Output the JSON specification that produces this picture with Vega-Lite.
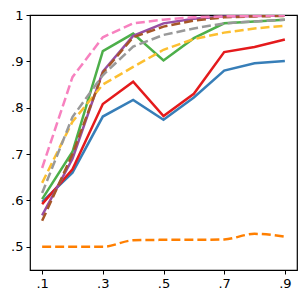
{
  "$schema": "https://vega.github.io/schema/vega-lite/v6.json",
  "autosize": {"type": "none"},
  "padding": {"left": 30, "top": 15, "right": 3, "bottom": 30},
  "width": 267,
  "height": 255,
  "config": {
    "view": {"stroke": "black", "strokeWidth": 1.2},
    "font": "DejaVu Sans",
    "axis": {"grid": false, "domain": false, "tickColor": "black", "tickSize": 4, "tickWidth": 1, "labelColor": "black", "labelFontSize": 13, "labelFont": "DejaVu Sans", "labelPadding": 3}
  },
  "datasets": {
    "d": [
      {"s": "blue", "x": 0.1, "y": 0.597}, {"s": "blue", "x": 0.2, "y": 0.660}, {"s": "blue", "x": 0.3, "y": 0.781}, {"s": "blue", "x": 0.4, "y": 0.817}, {"s": "blue", "x": 0.5, "y": 0.774}, {"s": "blue", "x": 0.6, "y": 0.822}, {"s": "blue", "x": 0.7, "y": 0.880}, {"s": "blue", "x": 0.8, "y": 0.896}, {"s": "blue", "x": 0.9, "y": 0.901},
      {"s": "red", "x": 0.1, "y": 0.592}, {"s": "red", "x": 0.2, "y": 0.667}, {"s": "red", "x": 0.3, "y": 0.808}, {"s": "red", "x": 0.4, "y": 0.856}, {"s": "red", "x": 0.5, "y": 0.782}, {"s": "red", "x": 0.6, "y": 0.830}, {"s": "red", "x": 0.7, "y": 0.920}, {"s": "red", "x": 0.8, "y": 0.931}, {"s": "red", "x": 0.9, "y": 0.947},
      {"s": "green", "x": 0.1, "y": 0.603}, {"s": "green", "x": 0.2, "y": 0.705}, {"s": "green", "x": 0.3, "y": 0.922}, {"s": "green", "x": 0.4, "y": 0.960}, {"s": "green", "x": 0.5, "y": 0.902}, {"s": "green", "x": 0.6, "y": 0.950}, {"s": "green", "x": 0.7, "y": 0.982}, {"s": "green", "x": 0.8, "y": 0.986}, {"s": "green", "x": 0.9, "y": 0.990},
      {"s": "purple", "x": 0.1, "y": 0.568}, {"s": "purple", "x": 0.2, "y": 0.690}, {"s": "purple", "x": 0.3, "y": 0.878}, {"s": "purple", "x": 0.4, "y": 0.955}, {"s": "purple", "x": 0.5, "y": 0.982}, {"s": "purple", "x": 0.6, "y": 0.992}, {"s": "purple", "x": 0.7, "y": 0.997}, {"s": "purple", "x": 0.8, "y": 0.998}, {"s": "purple", "x": 0.9, "y": 0.999}
    ],
    "e": [
      {"s": "orange", "x": 0.1, "y": 0.500}, {"s": "orange", "x": 0.2, "y": 0.500}, {"s": "orange", "x": 0.3, "y": 0.500}, {"s": "orange", "x": 0.4, "y": 0.514}, {"s": "orange", "x": 0.5, "y": 0.515}, {"s": "orange", "x": 0.6, "y": 0.515}, {"s": "orange", "x": 0.7, "y": 0.516}, {"s": "orange", "x": 0.8, "y": 0.528}, {"s": "orange", "x": 0.9, "y": 0.522},
      {"s": "yellow", "x": 0.1, "y": 0.638}, {"s": "yellow", "x": 0.2, "y": 0.770}, {"s": "yellow", "x": 0.3, "y": 0.850}, {"s": "yellow", "x": 0.4, "y": 0.888}, {"s": "yellow", "x": 0.5, "y": 0.925}, {"s": "yellow", "x": 0.6, "y": 0.948}, {"s": "yellow", "x": 0.7, "y": 0.962}, {"s": "yellow", "x": 0.8, "y": 0.971}, {"s": "yellow", "x": 0.9, "y": 0.977},
      {"s": "brown", "x": 0.1, "y": 0.556}, {"s": "brown", "x": 0.2, "y": 0.700}, {"s": "brown", "x": 0.3, "y": 0.875}, {"s": "brown", "x": 0.4, "y": 0.952}, {"s": "brown", "x": 0.5, "y": 0.975}, {"s": "brown", "x": 0.6, "y": 0.988}, {"s": "brown", "x": 0.7, "y": 0.995}, {"s": "brown", "x": 0.8, "y": 0.997}, {"s": "brown", "x": 0.9, "y": 0.998},
      {"s": "pink", "x": 0.1, "y": 0.670}, {"s": "pink", "x": 0.2, "y": 0.866}, {"s": "pink", "x": 0.3, "y": 0.952}, {"s": "pink", "x": 0.4, "y": 0.982}, {"s": "pink", "x": 0.5, "y": 0.990}, {"s": "pink", "x": 0.6, "y": 0.995}, {"s": "pink", "x": 0.7, "y": 0.997}, {"s": "pink", "x": 0.8, "y": 0.998}, {"s": "pink", "x": 0.9, "y": 0.999},
      {"s": "grey", "x": 0.1, "y": 0.616}, {"s": "grey", "x": 0.2, "y": 0.780}, {"s": "grey", "x": 0.3, "y": 0.870}, {"s": "grey", "x": 0.4, "y": 0.932}, {"s": "grey", "x": 0.5, "y": 0.957}, {"s": "grey", "x": 0.6, "y": 0.971}, {"s": "grey", "x": 0.7, "y": 0.982}, {"s": "grey", "x": 0.8, "y": 0.986}, {"s": "grey", "x": 0.9, "y": 0.990}
    ]
  },
  "encoding": {
    "x": {"field": "x", "type": "quantitative", "title": null, "scale": {"domain": [0.06, 0.94], "nice": false, "zero": false},
      "axis": {"values": [0.1, 0.3, 0.5, 0.7, 0.9], "labelExpr": "slice(format(datum.value, '.1f'), 1)"}},
    "y": {"field": "y", "type": "quantitative", "title": null, "scale": {"domain": [0.45, 1.0], "nice": false, "zero": false},
      "axis": {"values": [0.5, 0.6, 0.7, 0.8, 0.9, 1.0], "labelExpr": "datum.value >= 0.999 ? '1' : slice(format(datum.value, '.1f'), 1)"}},
    "color": {"field": "s", "type": "nominal", "legend": null,
      "scale": {"domain": ["blue", "red", "green", "purple", "orange", "yellow", "brown", "pink", "grey"],
                "range": ["#377eb8", "#e41a1c", "#4daf4a", "#984ea3", "#ff7f00", "#fcbf30", "#a65628", "#f781bf", "#999999"]}}
  },
  "layer": [
    {"data": {"name": "d"}, "mark": {"type": "line", "strokeWidth": 2.5, "clip": true}},
    {"data": {"name": "e"}, "transform": [{"filter": "datum.s != 'orange'"}], "mark": {"type": "line", "strokeWidth": 2.5, "strokeDash": [9, 4], "clip": true}},
    {"data": {"name": "e"}, "transform": [{"filter": "datum.s == 'orange'"}], "mark": {"type": "line", "strokeWidth": 2.5, "strokeDash": [9, 4], "interpolate": "monotone", "clip": true}}
  ]
}
